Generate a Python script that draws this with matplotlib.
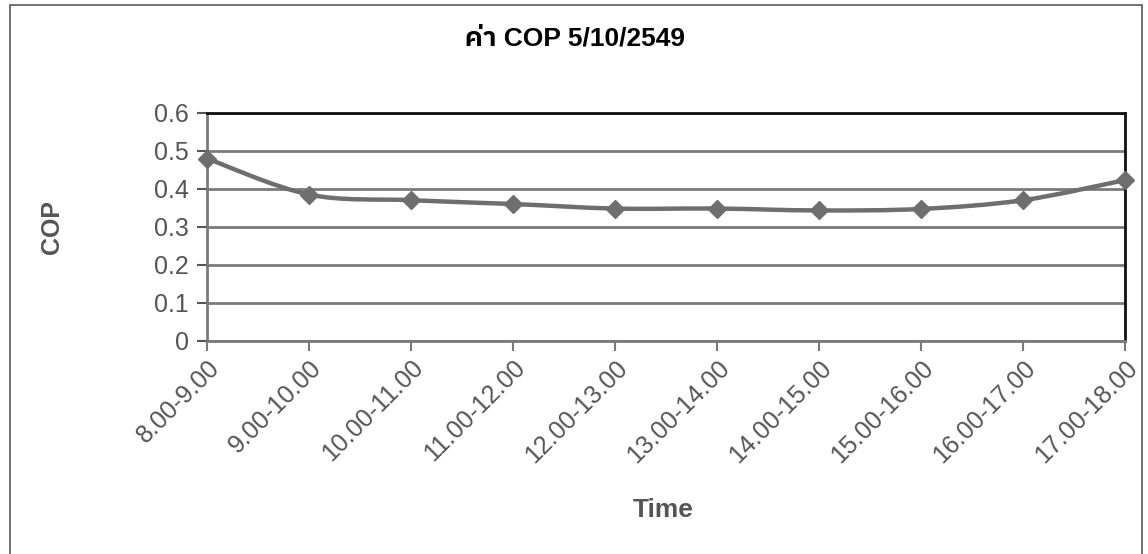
import numpy as np
import matplotlib
matplotlib.use('Agg')
import matplotlib.pyplot as plt
from matplotlib import font_manager
from matplotlib.path import Path
from matplotlib.patches import PathPatch, Rectangle

# COP per hour, 5/10/2549
time_slots = ['8.00-9.00', '9.00-10.00', '10.00-11.00', '11.00-12.00', '12.00-13.00',
              '13.00-14.00', '14.00-15.00', '15.00-16.00', '16.00-17.00', '17.00-18.00']
cop = [0.48, 0.385, 0.37, 0.36, 0.348, 0.348, 0.343, 0.347, 0.37, 0.423]
y_ticks = [0, 0.1, 0.2, 0.3, 0.4, 0.5, 0.6]

# Arial-like font first, any Thai font after it for the Thai title glyphs
thai = sorted({f.name for f in font_manager.fontManager.ttflist if 'Thai' in f.name})
plt.rcParams['font.family'] = ['Liberation Sans'] + thai + ['DejaVu Sans']

grey_txt = '#555555'

fig = plt.figure(figsize=(11.48, 5.54), dpi=100)
ax = fig.add_axes([207/1148, 1-340.5/554, (1125-207)/1148, (340.5-113)/554])

# chart area frame
fig.patches.append(Rectangle((10/1148, -0.05), (1142-10)/1148, 1.05 - 5/554,
                             transform=fig.transFigure, fill=False,
                             edgecolor='#666666', linewidth=1.3))

x = np.arange(len(cop))
y = np.array(cop)

# smoothed line (bezier through the points, like the spreadsheet's smooth option)
verts = [(x[0], y[0])]
codes = [Path.MOVETO]
n = len(x)
for i in range(n-1):
    p0 = np.array([x[max(i-1, 0)], y[max(i-1, 0)]])
    p1 = np.array([x[i], y[i]])
    p2 = np.array([x[i+1], y[i+1]])
    p3 = np.array([x[min(i+2, n-1)], y[min(i+2, n-1)]])
    c1 = p1 + (p2 - p0) / 6
    c2 = p2 - (p3 - p1) / 6
    verts += [tuple(c1), tuple(c2), tuple(p2)]
    codes += [Path.CURVE4] * 3
ax.add_patch(PathPatch(Path(verts, codes), fill=False, edgecolor='#6e6e6e',
                       linewidth=3.2, zorder=3, clip_on=False))
ax.plot(x, y, linestyle='none', marker='D', markersize=9, color='#6e6e6e',
        zorder=4, clip_on=False)

ax.set_xlim(0, len(cop)-1)
ax.set_ylim(0, 0.6)
ax.set_yticks(y_ticks)
ax.set_yticklabels(['0' if v == 0 else f'{v:.1f}' for v in y_ticks])
ax.yaxis.grid(True, color='#7a7a7a', linewidth=2)
ax.set_axisbelow(True)

ax.set_xticks(x)
ax.set_xticklabels(time_slots, rotation=45, ha='right', va='top',
                   rotation_mode='anchor', fontsize=18, color=grey_txt)
ax.tick_params(axis='y', labelsize=18, colors=grey_txt, length=7, width=1.5, pad=6)
ax.tick_params(axis='x', length=7, width=1.5, color='#7a7a7a', pad=4)

for s in ['left', 'bottom']:
    ax.spines[s].set_color('#7a7a7a')
    ax.spines[s].set_linewidth(2)
for s in ['top', 'right']:
    ax.spines[s].set_color('#111111')
    ax.spines[s].set_linewidth(2)

fig.text(575/1148, 1-38/554, 'ค่า COP 5/10/2549', ha='center', va='center',
         fontsize=19, fontweight='bold', color='black')
fig.text(52/1148, 1-227/554, 'COP', ha='center', va='center', rotation=90,
         fontsize=18, fontweight='bold', color=grey_txt)
fig.text(663/1148, 1-510/554, 'Time', ha='center', va='center',
         fontsize=19, fontweight='bold', color=grey_txt)

fig.savefig('out.png', dpi=100)
